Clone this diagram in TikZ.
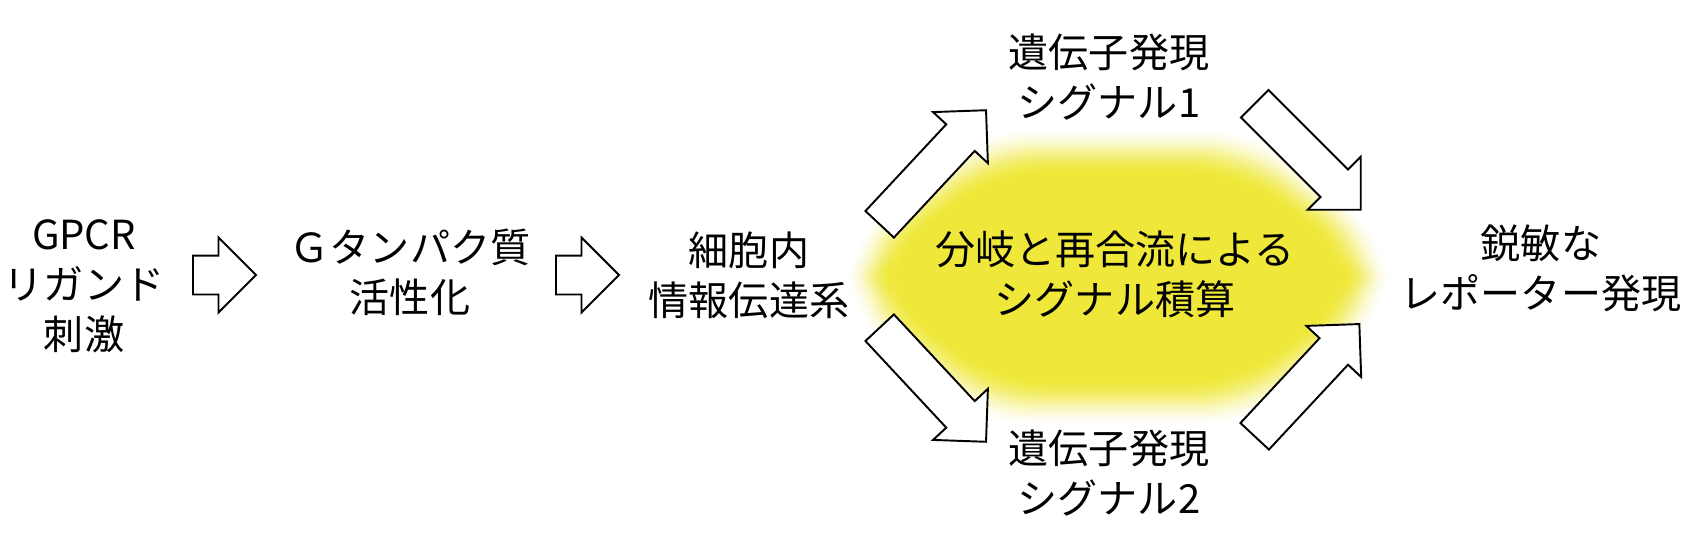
\documentclass[tikz,border=0pt]{standalone}
\usepackage{fontspec}
\setmainfont{Noto Sans CJK JP}
\usepackage{tikz}
\usetikzlibrary{shapes.arrows}
\definecolor{glowyel}{HTML}{EFE83A}

\begin{document}
\begin{tikzpicture}[
    x=0.02cm, y=-0.02cm,
    txt/.style={
        font=\fontsize{22.8pt}{28.4pt}\selectfont, align=center, inner sep=0pt
    },
    fatarrow/.style={
        single arrow, draw=black, fill=white, line width=1.1pt,
        inner xsep=0pt, inner ysep=0.37cm, single arrow head extend=0.36cm,
        minimum height=#1, anchor=tail
    }
]
\useasboundingbox (0,0) rectangle (1700,545);

% ===== Yellow glow behind the branch =====
\foreach \i in {0,...,24} {
    \pgfmathsetmacro\d{24-2*\i}
    \pgfmathsetmacro\sx{(248+\d)/248}
    \pgfmathsetmacro\sy{(127+\d)/127}
    \pgfmathsetmacro\t{\i/24}
    \pgfmathtruncatemacro\k{100*(3*\t*\t-2*\t*\t*\t)}
    \fill[glowyel!\k!white, shift={(1118,277)}, xscale=\sx, yscale=\sy, rounded corners=28pt]
        (-130,-127) -- (130,-127) -- (250,-32) -- (250,32)
        -- (130,127) -- (-130,127) -- (-250,32) -- (-250,-32) -- cycle;
}

% ===== Texts =====
\node[txt] (lig)   at (84,286)   {GPCR\\リガンド\\刺激};
\node[txt] (gpro)  at (410,272)  {Ｇタンパク質\\活性化};
\node[txt] (cell)  at (749,275)  {細胞内\\情報伝達系};
\node[txt] (sig1)  at (1109,77)  {遺伝子発現\\シグナル1};
\node[txt] (integ) at (1115,274) {分岐と再合流による\\シグナル積算};
\node[txt] (sig2)  at (1109,473) {遺伝子発現\\シグナル2};
\node[txt] (rep)   at (1541,268) {鋭敏な\\レポーター発現};

% ===== Block arrows =====
\node[fatarrow=1.26cm] (a1) at (192,275) {};
\node[fatarrow=1.26cm] (a2) at (555,275) {};
\node[fatarrow=3.12cm, rotate=47]  (a3) at (879,225) {};
\node[fatarrow=3.12cm, rotate=-47] (a4) at (879,327) {};
\node[fatarrow=3.0cm, rotate=-45]  (a5) at (1254,103) {};
\node[fatarrow=3.07cm, rotate=47]  (a6) at (1254,437) {};

\end{tikzpicture}
\end{document}
